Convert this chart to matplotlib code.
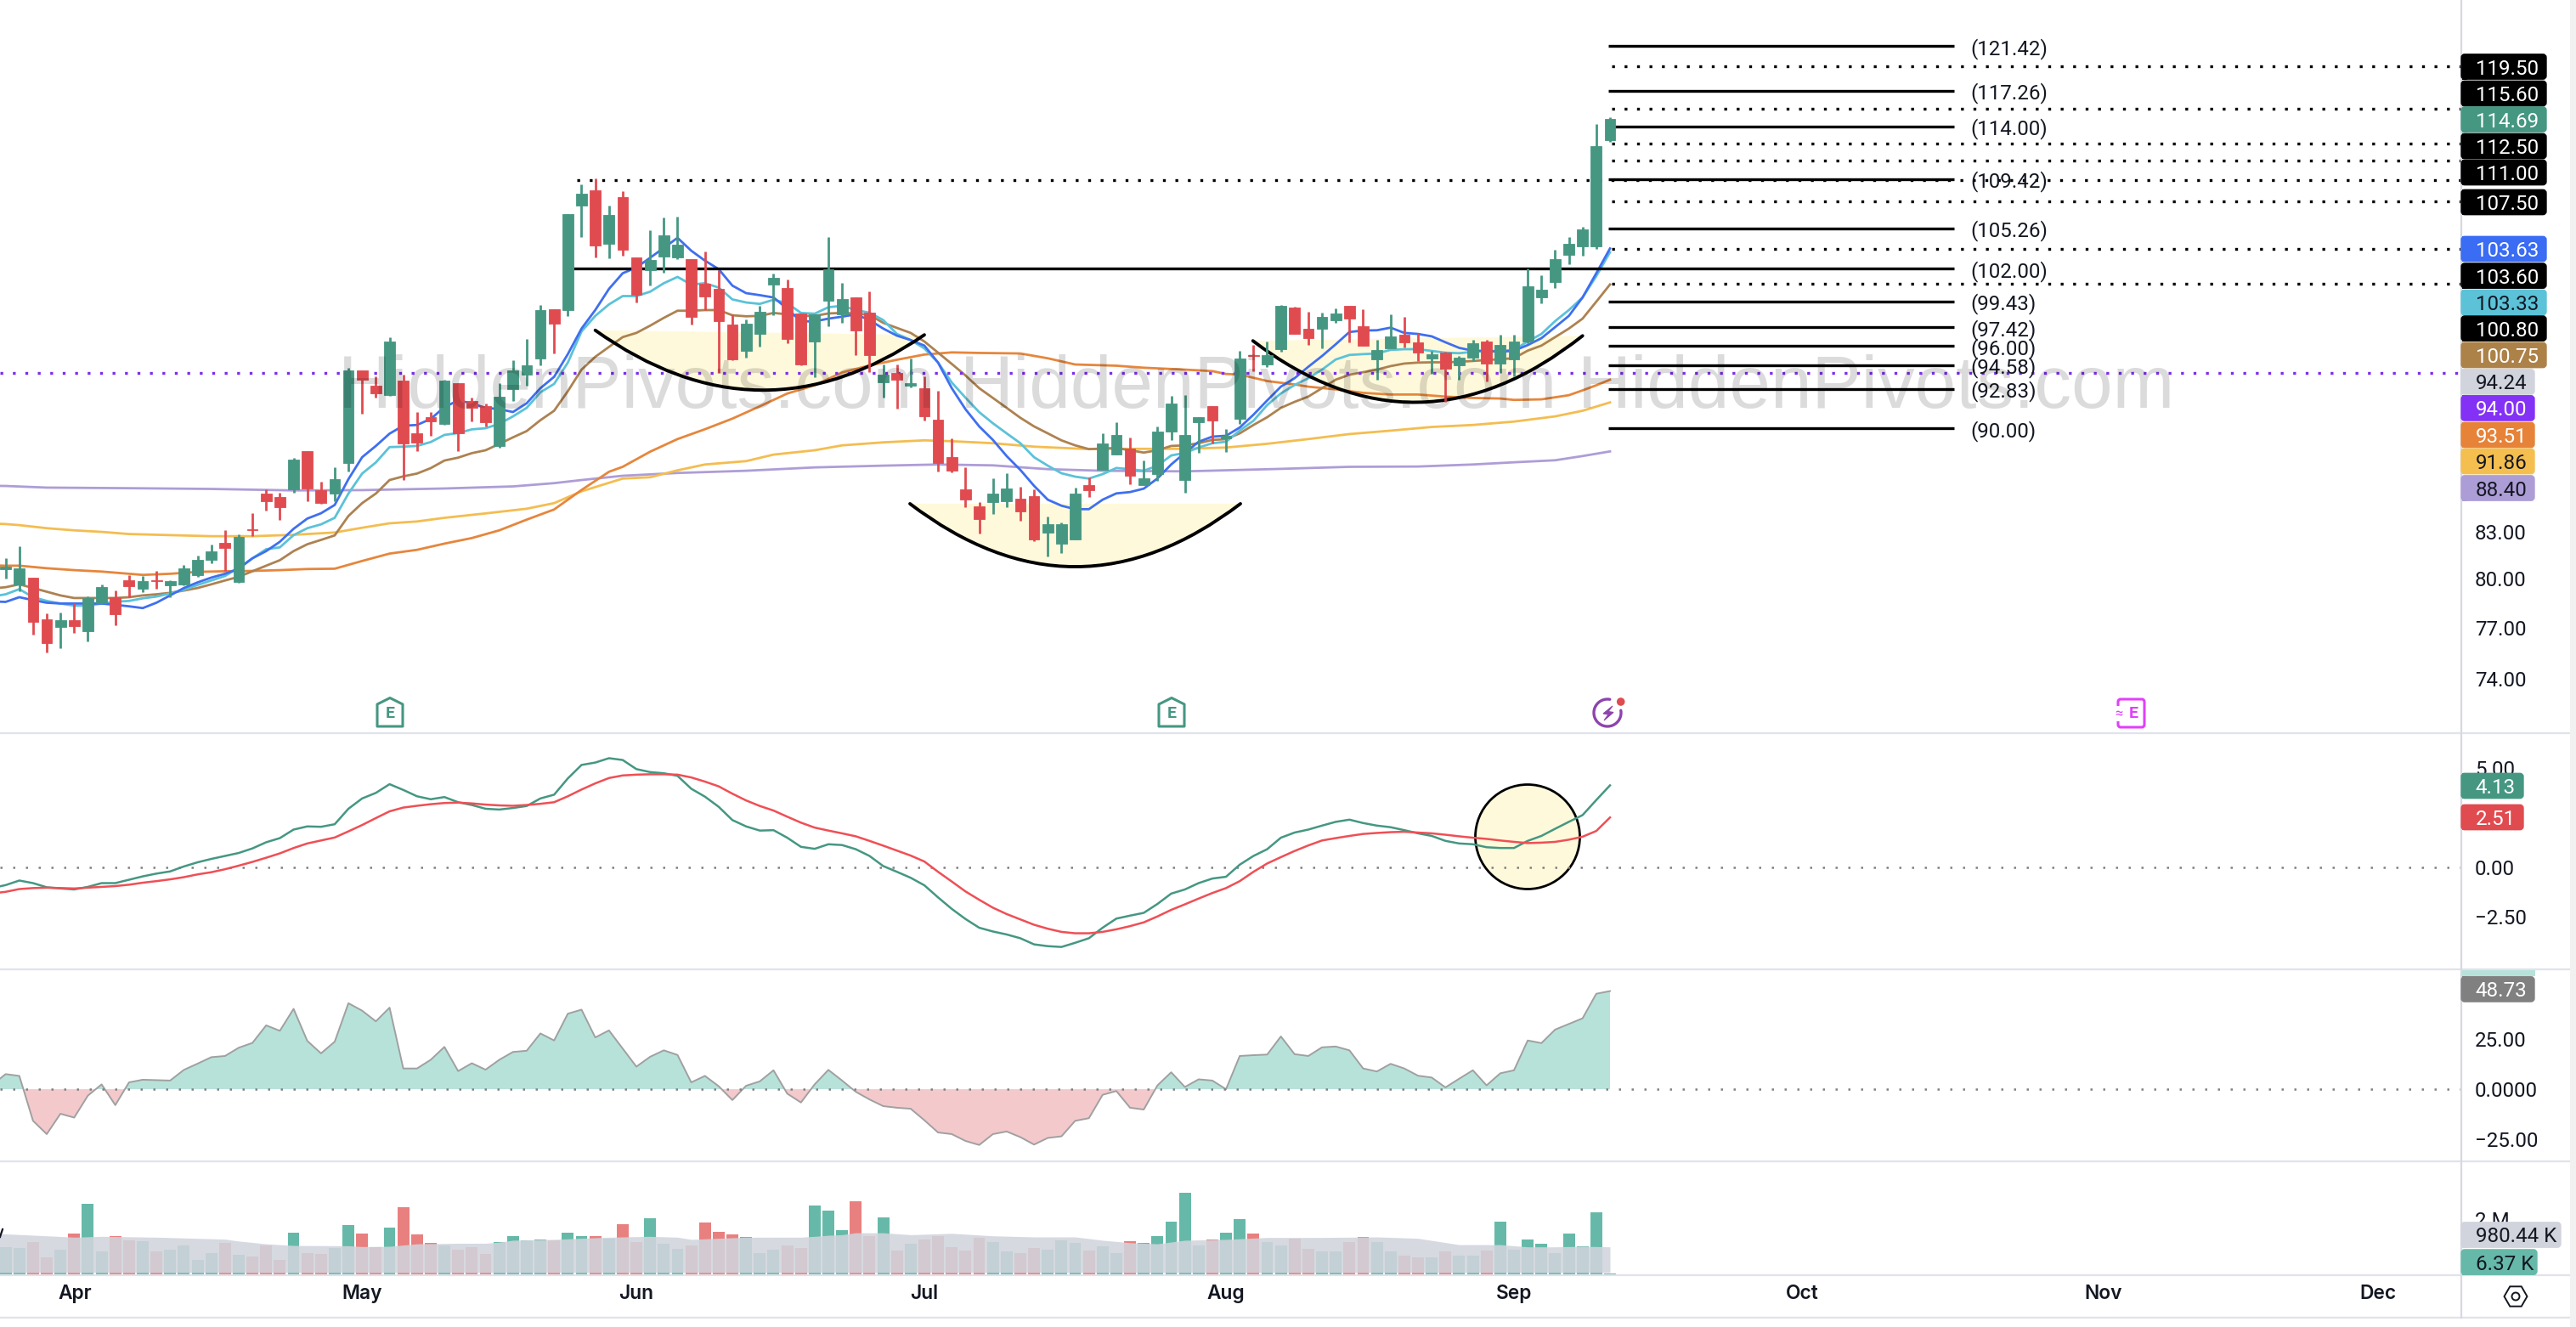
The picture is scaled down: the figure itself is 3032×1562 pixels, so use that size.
import matplotlib
matplotlib.use("Agg")
import matplotlib.pyplot as plt
import numpy as np
from matplotlib.lines import Line2D
from matplotlib.patches import Circle, FancyBboxPatch, PathPatch, Polygon, Rectangle, RegularPolygon
from matplotlib.path import Path
from matplotlib.transforms import Affine2D

# daily candles
opens = [
    80.6, 79.63, 80.08, 77.5, 77.03, 77.43, 76.8, 78.5, 78.88, 79.9,
    79.36, 79.9, 79.58, 79.66, 80.22, 81.2, 82.27, 79.8, 83.17, 85.5,
    85.3, 85.83, 88.43, 85.76, 85.5, 87.6, 94.2, 93.1, 92.38, 93.43,
    89.64, 90.8, 90.3, 93.26, 91.97, 91.6, 88.77, 92.83, 93.85, 95.07,
    98.8, 98.75, 107.2, 108.5, 104.0, 107.87, 102.88, 101.9, 103.0, 102.9,
    102.8, 100.8, 100.4, 97.63, 95.66, 96.94, 100.75, 100.47, 98.47, 96.35,
    99.47, 98.42, 99.73, 98.53, 93.32, 93.98, 93.1, 92.9, 90.6, 88.0,
    85.8, 84.7, 84.95, 85.04, 85.17, 85.33, 82.95, 82.24, 82.53, 86.08,
    87.15, 88.18, 88.58, 86.11, 86.86, 89.76, 86.42, 90.45, 91.6, 89.3,
    90.66, 95.34, 94.65, 95.77, 98.95, 97.3, 97.3, 97.96, 99.08, 97.49,
    95.03, 95.83, 96.83, 96.3, 95.07, 95.5, 94.54, 95.13, 96.32, 94.72,
    95.03, 96.32, 99.75, 100.93, 103.12, 103.82, 103.82, 112.8,
]
highs = [
    81.3, 82.05, 80.1, 77.85, 77.9, 78.47, 78.9, 79.66, 79.27, 80.25,
    80.2, 80.5, 79.9, 80.87, 81.45, 82.17, 83.1, 82.83, 84.22, 85.8,
    85.6, 87.97, 88.43, 86.34, 87.3, 94.35, 94.2, 93.78, 96.67, 93.87,
    91.2, 91.17, 93.5, 93.26, 92.18, 91.8, 93.23, 94.95, 96.57, 99.14,
    98.8, 106.44, 109.0, 109.5, 107.15, 108.4, 102.88, 105.1, 106.17, 106.25,
    102.8, 103.4, 101.9, 98.42, 98.0, 99.08, 101.6, 101.12, 98.47, 98.42,
    104.6, 100.9, 99.77, 100.2, 94.63, 94.63, 95.05, 93.75, 92.73, 89.3,
    87.3, 84.96, 86.54, 86.9, 85.96, 85.83, 83.98, 83.64, 85.9, 86.6,
    89.67, 90.45, 89.37, 87.75, 90.13, 92.34, 92.38, 90.82, 91.6, 89.95,
    95.62, 96.08, 96.37, 99.12, 99.0, 98.6, 98.53, 98.9, 99.08, 98.83,
    96.5, 98.42, 98.24, 96.98, 95.66, 95.56, 95.26, 96.5, 96.5, 96.85,
    96.85, 102.0, 101.5, 103.52, 104.55, 105.42, 114.25, 114.85,
]
lows = [
    80.0, 79.2, 76.6, 75.5, 75.78, 76.68, 76.2, 78.42, 77.12, 78.86,
    79.15, 79.38, 78.86, 79.6, 80.13, 81.0, 80.5, 79.75, 82.72, 84.4,
    83.8, 85.59, 85.0, 84.84, 85.0, 87.0, 91.07, 92.2, 92.3, 86.44,
    88.42, 89.48, 90.27, 88.42, 90.5, 90.15, 88.65, 91.95, 93.1, 94.56,
    95.45, 98.3, 104.55, 102.9, 102.85, 103.05, 99.36, 100.7, 101.67, 102.8,
    97.65, 98.75, 94.0, 94.94, 95.13, 95.97, 98.37, 96.23, 94.58, 93.72,
    97.49, 97.77, 95.3, 94.04, 92.2, 91.4, 92.93, 90.55, 87.03, 86.97,
    84.62, 82.9, 84.2, 84.62, 83.7, 82.38, 81.44, 81.63, 82.53, 85.3,
    87.15, 88.18, 86.15, 86.11, 86.4, 89.17, 85.58, 88.28, 88.93, 88.38,
    90.3, 94.12, 94.46, 95.58, 96.94, 96.08, 95.83, 97.77, 96.3, 96.0,
    93.5, 95.83, 95.87, 94.87, 93.93, 91.92, 93.5, 94.87, 93.36, 93.98,
    93.76, 96.19, 99.29, 100.49, 102.38, 103.05, 103.6, 112.65,
]
closes = [
    80.78, 80.67, 77.35, 76.05, 77.43, 77.07, 78.81, 79.48, 77.8, 79.55,
    79.87, 79.87, 79.85, 80.67, 81.2, 81.76, 81.94, 82.7, 83.12, 85.0,
    84.62, 87.84, 85.86, 84.9, 86.5, 94.2, 93.5, 92.53, 96.36, 88.97,
    89.02, 90.5, 93.43, 89.68, 91.5, 90.45, 92.26, 94.2, 94.56, 98.75,
    97.73, 106.44, 108.2, 103.9, 106.4, 103.5, 99.95, 102.7, 104.73, 103.96,
    98.24, 99.8, 97.9, 95.0, 97.7, 98.6, 101.28, 96.53, 94.65, 98.42,
    101.95, 99.6, 97.18, 95.34, 93.87, 93.51, 93.28, 90.86, 87.58, 87.09,
    85.15, 83.86, 85.5, 85.86, 84.36, 82.53, 83.48, 83.53, 85.54, 85.73,
    88.97, 89.52, 86.74, 86.54, 89.76, 91.8, 89.52, 90.8, 90.57, 89.5,
    95.05, 95.26, 95.32, 99.08, 96.94, 96.63, 98.2, 98.47, 98.09, 96.0,
    95.72, 96.76, 96.3, 95.53, 95.37, 94.34, 95.13, 96.19, 94.72, 96.06,
    96.35, 100.58, 100.35, 102.8, 104.03, 105.18, 112.3, 114.69,
]

# short moving averages, one value per candle; the first value sits one bar
# before the first candle so the line runs off the left edge
blue_ma = [
    78.6,
    78.57, 78.86, 78.68, 78.52, 78.47, 78.47, 78.47, 78.47, 78.39, 78.3,
    78.19, 78.52, 78.97, 79.43, 79.78, 80.08, 80.32, 80.64, 81.3, 81.76,
    82.36, 83.2, 83.87, 84.22, 84.77, 86.5, 88.0, 88.78, 89.64, 90.2,
    90.25, 90.68, 91.52, 92.0, 91.79, 91.47, 91.38, 91.17, 91.8, 92.89,
    93.72, 95.4, 97.33, 98.75, 100.4, 101.64, 102.1, 102.88, 103.68, 104.5,
    103.45, 102.65, 101.97, 100.66, 100.07, 99.91, 99.73, 98.86, 97.88, 97.88,
    98.09, 98.24, 98.42, 97.98, 97.33, 96.79, 96.46, 96.04, 94.77, 92.89,
    91.37, 90.15, 89.2, 88.08, 87.13, 86.05, 85.12, 84.72, 84.49, 84.49,
    85.12, 85.54, 85.63, 85.86, 86.55, 87.5, 88.3, 89.07, 89.43, 89.49,
    90.07, 90.98, 92.0, 93.0, 93.62, 94.46, 95.26, 96.14, 97.07, 97.18,
    97.2, 97.4, 97.0, 96.92, 96.74, 96.29, 95.87, 95.66, 95.64, 95.57,
    95.66, 96.08, 96.6, 97.44, 98.3, 99.73, 101.64, 103.63,
]
cyan_ma = [
    78.9,
    79.04, 79.36, 78.86, 78.63, 78.47, 78.34, 78.34, 78.47, 78.58, 78.63,
    78.79, 78.9, 79.09, 79.32, 79.62, 79.9, 80.18, 80.71, 81.3, 81.88,
    82.0, 82.79, 83.24, 83.49, 83.92, 85.53, 86.88, 87.64, 88.7, 88.73,
    88.78, 89.05, 89.55, 89.68, 89.94, 90.02, 90.33, 90.86, 91.47, 92.59,
    93.2, 94.77, 97.11, 98.3, 99.19, 99.84, 99.84, 100.18, 100.85, 101.35,
    100.74, 100.85, 100.51, 99.58, 99.34, 99.23, 99.55, 99.29, 98.53, 98.47,
    98.97, 99.08, 98.75, 98.55, 97.98, 96.92, 96.46, 95.83, 94.77, 93.3,
    92.2, 91.16, 90.37, 89.66, 88.97, 88.0, 87.42, 86.9, 86.67, 86.54,
    86.84, 87.26, 87.18, 87.07, 87.42, 88.12, 88.3, 88.67, 88.97, 89.07,
    89.86, 90.55, 91.67, 92.51, 93.12, 93.62, 94.25, 95.0, 95.34, 95.4,
    95.45, 95.72, 95.77, 95.77, 95.64, 95.51, 95.47, 95.57, 95.64, 95.64,
    95.72, 96.35, 96.92, 97.9, 98.75, 99.73, 101.41, 103.33,
]
brown_ma = [
    79.4,
    79.48, 79.66, 79.43, 79.2, 78.97, 78.81, 78.81, 78.81, 78.81, 78.86,
    78.97, 79.04, 79.13, 79.27, 79.43, 79.66, 79.9, 80.13, 80.48, 80.83,
    81.18, 81.76, 82.2, 82.48, 82.77, 84.04, 84.89, 85.53, 86.44, 86.69,
    86.88, 87.25, 87.77, 87.97, 88.28, 88.48, 88.92, 89.38, 89.82, 90.59,
    91.26, 92.67, 94.25, 95.2, 95.94, 96.68, 97.0, 97.55, 98.15, 98.7,
    98.7, 98.75, 98.75, 98.35, 98.27, 98.3, 98.53, 98.42, 98.3, 98.3,
    98.49, 98.53, 98.49, 98.37, 97.77, 97.38, 97.0, 96.35, 95.51, 94.67,
    93.82, 92.89, 92.18, 91.47, 90.76, 90.15, 89.66, 89.17, 88.82, 88.56,
    88.6, 88.64, 88.48, 88.32, 88.48, 88.78, 88.82, 88.97, 89.2, 89.25,
    89.66, 90.25, 90.8, 91.47, 91.9, 92.28, 92.89, 93.51, 93.87, 94.06,
    94.25, 94.51, 94.7, 94.77, 94.79, 94.79, 94.83, 94.89, 94.96, 95.02,
    95.1, 95.66, 96.04, 96.68, 97.33, 98.09, 99.4, 100.75,
]

# long moving averages are smooth, read at every few candles (candle number, price)
orange_bars = [
    0, 1, 2, 4, 6, 8, 10, 11, 13, 15, 17, 19, 21, 23, 25, 27, 29, 31, 33, 35, 37,
    39, 41, 43, 45, 46, 48, 50, 52, 54, 56, 58, 60, 62, 64, 66, 68, 70, 72, 75, 77,
    79, 82, 84, 87, 89, 90, 91, 93, 95, 96, 98, 100, 102, 104, 106, 108, 110, 111, 113, 115,
    116, 117, 118,
]
orange_ma = [
    80.85, 80.83, 80.83, 80.67, 80.55, 80.46, 80.32, 80.25, 80.32, 80.44, 80.48, 80.5, 80.55, 80.62, 80.64, 81.13, 81.6, 81.84, 82.24, 82.6, 83.1,
    83.8, 84.47, 85.77, 87.0, 87.34, 88.38, 89.26, 89.95, 90.7, 91.58, 92.5, 93.1, 94.04, 94.56, 94.98, 95.37, 95.53, 95.49, 95.45, 95.09,
    94.63, 94.54, 94.39, 94.25, 94.14, 93.93, 93.89, 93.41, 93.16, 93.0, 92.8, 92.55, 92.43, 92.43, 92.28, 92.18, 92.14, 92.04, 92.08, 92.38,
    92.73, 93.1, 93.51,
]
yellow_bars = [
    0, 1, 2, 4, 6, 8, 10, 13, 16, 19, 22, 25, 27, 29, 31, 33, 36, 39, 41, 43, 46,
    48, 50, 52, 55, 57, 60, 62, 65, 68, 70, 73, 76, 80, 83, 87, 90, 93, 96, 99, 102,
    105, 108, 111, 114, 116, 118,
]
yellow_ma = [
    83.55, 83.51, 83.44, 83.24, 83.1, 83.0, 82.86, 82.79, 82.72, 82.72, 82.81, 82.96, 83.27, 83.56, 83.68, 83.92, 84.21, 84.52, 84.89, 85.68, 86.54,
    86.63, 87.1, 87.5, 87.73, 88.18, 88.48, 88.82, 89.03, 89.17, 89.11, 88.97, 88.73, 88.56, 88.58, 88.58, 88.67, 88.93, 89.26, 89.61, 89.85,
    90.11, 90.25, 90.49, 90.86, 91.26, 91.86,
]
purple_bars = [0, 1, 4, 10, 16, 22, 27, 33, 38, 41, 43, 46, 50, 55, 60, 65, 69, 73, 77, 81, 87, 94, 99, 104, 108, 111, 114, 116, 118]
purple_ma = [
    86.05, 86.04, 85.93, 85.89, 85.84, 85.74, 85.76, 85.87, 86.01, 86.23, 86.44, 86.73, 86.92, 87.07, 87.3, 87.42, 87.5, 87.44, 87.18, 87.07, 87.03,
    87.2, 87.34, 87.36, 87.5, 87.65, 87.79, 88.08, 88.4,
]

# lower panels, first value is again one bar before the first candle
macd_line = [
    -1.05,
    -0.90, -0.67, -0.80, -1.01, -1.07, -1.12, -0.99, -0.80, -0.80, -0.63,
    -0.46, -0.32, -0.21, 0.04, 0.25, 0.42, 0.57, 0.72, 0.95, 1.26,
    1.47, 1.90, 2.06, 2.04, 2.17, 2.95, 3.47, 3.75, 4.19, 3.90,
    3.58, 3.43, 3.54, 3.28, 3.14, 2.95, 2.91, 2.99, 3.09, 3.47,
    3.66, 4.48, 5.16, 5.28, 5.50, 5.41, 4.95, 4.80, 4.74, 4.61,
    3.96, 3.56, 3.05, 2.38, 2.06, 1.85, 1.87, 1.49, 1.03, 0.93,
    1.16, 1.12, 0.91, 0.57, 0.06, -0.23, -0.53, -0.91, -1.52, -2.10,
    -2.61, -3.05, -3.24, -3.39, -3.58, -3.89, -3.98, -4.02, -3.81, -3.58,
    -3.05, -2.59, -2.44, -2.30, -1.85, -1.33, -1.12, -0.80, -0.57, -0.48,
    0.13, 0.57, 0.91, 1.49, 1.75, 1.90, 2.10, 2.29, 2.40, 2.23,
    2.10, 2.02, 1.87, 1.71, 1.58, 1.33, 1.20, 1.16, 1.01, 0.97,
    0.97, 1.33, 1.58, 1.94, 2.29, 2.63, 3.39, 4.13,
]
macd_signal = [
    -1.32,
    -1.24, -1.10, -1.05, -1.03, -1.05, -1.07, -1.03, -0.99, -0.95, -0.88,
    -0.78, -0.70, -0.61, -0.50, -0.36, -0.25, -0.10, 0.08, 0.27, 0.48,
    0.70, 0.97, 1.20, 1.35, 1.50, 1.81, 2.13, 2.48, 2.82, 3.01,
    3.10, 3.18, 3.24, 3.26, 3.22, 3.16, 3.12, 3.10, 3.14, 3.20,
    3.28, 3.58, 3.92, 4.23, 4.50, 4.63, 4.67, 4.69, 4.69, 4.67,
    4.53, 4.32, 4.08, 3.71, 3.37, 3.09, 2.86, 2.55, 2.25, 2.00,
    1.85, 1.71, 1.56, 1.33, 1.09, 0.84, 0.59, 0.29, -0.23, -0.72,
    -1.22, -1.64, -2.04, -2.36, -2.63, -2.90, -3.10, -3.26, -3.33, -3.33,
    -3.26, -3.13, -2.97, -2.78, -2.48, -2.15, -1.87, -1.58, -1.30, -1.05,
    -0.70, -0.23, 0.19, 0.51, 0.82, 1.10, 1.35, 1.47, 1.58, 1.68,
    1.73, 1.77, 1.79, 1.75, 1.71, 1.64, 1.56, 1.49, 1.43, 1.35,
    1.28, 1.22, 1.24, 1.28, 1.39, 1.54, 1.83, 2.51,
]
momentum = [
    2.0,
    7.5, 6.6, -15.7, -22.3, -12.2, -14.1, -3.2, 2.4, -7.9, 3.4,
    4.7, 4.5, 4.3, 9.6, 12.7, 15.9, 16.5, 20.6, 23.0, 31.7,
    29.0, 39.9, 24.0, 17.8, 23.6, 42.7, 39.0, 33.7, 40.5, 10.3,
    10.3, 14.6, 21.0, 9.0, 12.9, 9.7, 14.6, 18.5, 19.1, 27.7,
    24.2, 37.5, 39.5, 25.7, 29.2, 20.2, 11.2, 16.1, 19.3, 17.0,
    3.4, 6.6, 1.5, -5.4, 1.7, 3.9, 9.4, -2.2, -6.6, 2.4,
    9.6, 4.3, -1.3, -5.1, -8.4, -9.2, -9.7, -15.4, -21.5, -22.3,
    -25.7, -27.7, -22.3, -21.0, -23.8, -27.5, -24.2, -23.4, -15.7, -14.4,
    -2.8, -0.9, -9.2, -10.1, 1.9, 8.4, 1.1, 4.9, 4.3, 0.0,
    16.5, 16.9, 17.2, 26.2, 17.4, 16.5, 20.8, 21.2, 19.3, 10.3,
    8.8, 12.6, 10.3, 6.7, 5.8, 0.9, 5.2, 9.4, 1.9, 7.9,
    9.4, 24.2, 22.9, 29.6, 32.4, 35.2, 47.4, 48.73,
]
# volume in millions
volume = [
    0.98, 0.95, 1.15, 0.61, 0.88, 1.47, 2.54, 0.81, 1.36, 1.22,
    1.19, 0.81, 0.88, 1.02, 0.50, 0.75, 1.11, 0.68, 0.64, 1.02,
    0.50, 1.49, 0.75, 0.72, 0.95, 1.76, 1.47, 0.98, 1.67, 2.42,
    1.44, 1.11, 1.02, 0.88, 0.98, 0.73, 1.15, 1.36, 1.22, 1.26,
    1.22, 1.49, 1.38, 1.36, 1.29, 1.80, 1.15, 2.01, 1.09, 0.91,
    1.02, 1.86, 1.52, 1.44, 1.33, 0.75, 0.87, 1.02, 0.95, 2.48,
    2.31, 1.60, 2.62, 1.36, 2.04, 0.84, 1.09, 1.26, 1.36, 0.98,
    0.84, 1.32, 1.14, 0.81, 0.77, 0.95, 0.88, 1.22, 1.11, 0.84,
    1.00, 0.77, 1.19, 1.13, 1.38, 1.90, 2.93, 1.02, 1.25, 1.49,
    1.99, 1.47, 1.15, 1.02, 1.29, 0.91, 0.83, 0.81, 1.14, 1.33,
    1.15, 0.81, 0.65, 0.60, 0.61, 0.81, 0.65, 0.65, 0.85, 1.90,
    0.88, 1.26, 1.09, 0.75, 1.45, 0.99, 2.24, 0.00637,
]
vol_ma_bars = [
    0, 1, 4, 6, 8, 12, 17, 18, 20, 22, 26, 27, 29, 31, 34, 36, 37, 38, 41, 43, 45,
    48, 50, 51, 53, 55, 59, 60, 61, 62, 63, 65, 67, 70, 73, 76, 79, 81, 83, 85, 87,
    90, 93, 97, 101, 104, 107, 110, 112, 114, 116, 118,
]
vol_ma = [
    1.45, 1.45, 1.38, 1.33, 1.36, 1.33, 1.26, 1.19, 1.09, 1.03, 1.02, 0.99, 1.00, 1.09, 1.11, 1.11, 1.15, 1.22, 1.25, 1.29, 1.33,
    1.36, 1.33, 1.25, 1.29, 1.33, 1.33, 1.36, 1.40, 1.42, 1.49, 1.49, 1.42, 1.47, 1.38, 1.34, 1.34, 1.22, 1.13, 1.09, 1.22,
    1.25, 1.32, 1.32, 1.34, 1.29, 1.06, 1.06, 0.98, 0.98, 1.00, 0.98,
]

# price levels drawn by hand on the chart
fib_levels = [121.42, 117.26, 114.00, 109.42, 105.26, 102.00, 99.43, 97.42, 96.00, 94.58, 92.83, 90.00]
dotted_levels = [119.50, 115.60, 112.50, 111.00, 107.50, 103.60, 100.80]
may_high = 109.3
purple_level = 94.0

month_labels = ["Apr", "May", "Jun", "Jul", "Aug", "Sep", "Oct", "Nov", "Dec"]
month_bars = [5.04, 25.98, 46, 67, 89, 110, 131, 153, 173]
price_ticks = [74, 77, 80, 83]

# tags on the price scale: text, centre row in pixels, fill, text colour, right edge
price_tags = [
    ("119.50", 78.5, "#000000", "#ffffff", 2998),
    ("115.60", 110, "#000000", "#ffffff", 2998),
    ("114.69", 140.5, "#459782", "#ffffff", 2998),
    ("112.50", 172, "#000000", "#ffffff", 2998),
    ("111.00", 203, "#000000", "#ffffff", 2998),
    ("107.50", 238, "#000000", "#ffffff", 2998),
    ("103.63", 293, "#3a6cf4", "#ffffff", 2998),
    ("103.60", 324.6, "#000000", "#ffffff", 2998),
    ("103.33", 356, "#5bc2d8", "#131722", 2998),
    ("100.80", 386.6, "#000000", "#ffffff", 2998),
    ("100.75", 418, "#ad8249", "#ffffff", 2998),
    ("94.24", 449.4, "#d1d4dc", "#131722", 2984),
    ("94.00", 480.4, "#8331f5", "#ffffff", 2984),
    ("93.51", 512, "#e68339", "#ffffff", 2984),
    ("91.86", 543, "#f5bf50", "#131722", 2984),
    ("88.40", 574.5, "#ad9dd6", "#131722", 2984),
    ("4.13", 925, "#459782", "#ffffff", 2971),
    ("2.51", 962, "#e04b50", "#ffffff", 2971),
    ("48.73", 1164.4, "#808080", "#ffffff", 2984),
    ("980.44 K", 1453.5, "#d1d4dc", "#131722", 3015),
    ("6.37 K", 1485.6, "#66b9a8", "#131722", 2987),
]

W, H = 3032, 1562
DPI = 200
GREEN = "#459782"
RED = "#e04b50"
NUM_SIZE = 8.7
BAR_PX = 16.14
FIRST_PX = 6.6
AXIS_PX = 2897

plt.rcParams["font.family"] = ["Roboto", "DejaVu Sans"]
plt.rcParams["axes.unicode_minus"] = True

fig = plt.figure(figsize=(W / DPI, H / DPI), dpi=DPI, facecolor="white")
# pixel coordinates, y going down, for the things that sit outside the data
px = Affine2D().scale(1, -1).translate(0, H)


def panel(top, bottom):
    ax = fig.add_axes([0, 1 - bottom / H, AXIS_PX / W, (bottom - top) / H])
    ax.set_xlim(-FIRST_PX / BAR_PX, (AXIS_PX - FIRST_PX) / BAR_PX)
    for s in ax.spines.values():
        s.set_visible(False)
    ax.set_xticks([])
    ax.yaxis.tick_right()
    ax.tick_params(axis="y", length=0, pad=5.8, labelsize=NUM_SIZE, labelcolor="#131722")
    ax.patch.set_alpha(0)
    return ax


bars = np.arange(len(closes))
# the per candle lines and lower panel series start one bar earlier
line_bars = np.arange(-1, len(closes))
opens = np.array(opens)
closes = np.array(closes)
is_up = closes >= opens

# ---- price panel
ax = panel(0, 862)
ax.set_yscale("log")
ax.set_ylim(70.94, 125.9)
ax.set_yticks(price_ticks, labels=[f"{t:.2f}" for t in price_ticks])
ax.minorticks_off()


def cup(left, right, edge, control, edge2):
    verts = [(left, edge), (0.5 * (left + right), control), (right, edge2)]
    fill = PathPatch(Path(verts + [verts[0], verts[0]], [Path.MOVETO, Path.CURVE3, Path.CURVE3, Path.LINETO, Path.CLOSEPOLY]),
                     facecolor="#fff9db", edgecolor="none", zorder=1)
    ax.add_patch(fill)
    arc = PathPatch(Path(verts, [Path.MOVETO, Path.CURVE3, Path.CURVE3]), facecolor="none",
                    edgecolor="black", lw=1.4, capstyle="round", zorder=2.5)
    ax.add_patch(arc)


cup(43.0, 67.0, 97.2, 88.66, 96.85)
cup(65.95, 90.05, 84.85, 76.88, 84.85)
cup(90.96, 115.0, 96.4, 87.38, 96.78)

for name_ma, idx, color in [
    (purple_ma, purple_bars, "#ae9dd7"),
    (yellow_ma, yellow_bars, "#f4bd50"),
    (orange_ma, orange_bars, "#e6863c"),
    (brown_ma, None, "#ad8251"),
    (cyan_ma, None, "#5bc2d8"),
    (blue_ma, None, "#3f6ff0"),
]:
    xs = line_bars if idx is None else np.array(idx) - 1
    ax.plot(xs, name_ma, color=color, lw=1.0, zorder=2)

x_end = (AXIS_PX - FIRST_PX) / BAR_PX
x_fib_start = (1893 - FIRST_PX) / BAR_PX
x_fib_end = (2300 - FIRST_PX) / BAR_PX
x_dot_start = (1897 - FIRST_PX) / BAR_PX
x_label = (2319 - FIRST_PX) / BAR_PX
for level in fib_levels:
    start = (675 - FIRST_PX) / BAR_PX if level == 102.00 else x_fib_start
    ax.plot([start, x_fib_end], [level, level], color="black", lw=1.2, solid_capstyle="butt", zorder=2)
    ax.text(x_label, level, f"({level:.2f})", fontsize=NUM_SIZE, color="#131722", va="center_baseline", ha="left")
dots = (0, (1, 3.4))
for level in dotted_levels:
    ax.plot([x_dot_start, x_end], [level, level], color="black", lw=1.2, ls=dots, dash_capstyle="butt", zorder=2)
ax.plot([(679 - FIRST_PX) / BAR_PX, x_end], [may_high, may_high], color="black", lw=1.2, ls=dots, dash_capstyle="butt", zorder=2)
ax.plot([ax.get_xlim()[0], x_end], [purple_level, purple_level], color="#7c2df0", lw=1.2, ls=dots, dash_capstyle="butt", zorder=2)

candle_colors = [GREEN if u else RED for u in is_up]
ax.vlines(bars, lows, highs, colors=candle_colors, lw=1.0, zorder=3)
body_low = np.minimum(opens, closes)
body_high = np.maximum(opens, closes)
ax.bar(bars, body_high - body_low, bottom=body_low, width=0.79, color=candle_colors,
       edgecolor=candle_colors, lw=0.3, zorder=3)

# ---- macd panel
ax2 = panel(864, 1140)
ax2.set_ylim(-5.106, 6.72)
ax2.set_yticks([5, 0, -2.5], labels=["5.00", "0.00", "\u22122.50"])
ax2.axhline(0, color="#808080", lw=0.9, ls=(0, (1, 5)), dash_capstyle="butt")
ax2.add_patch(Circle((1798, 985), 61.5, transform=px, facecolor="#fff9db", edgecolor="black", lw=1.0, zorder=1))
ax2.plot(line_bars, macd_line, color=GREEN, lw=0.9, zorder=3)
ax2.plot(line_bars, macd_signal, color="#ef4f55", lw=0.9, zorder=3)

# ---- momentum panel
ax3 = panel(1142, 1366)
ax3.set_ylim(-35.4, 59.1)
ax3.set_yticks([25, 0, -25], labels=["25.00", "0.0000", "\u221225.00"])
momentum = np.array(momentum)
ax3.fill_between(line_bars, momentum, 0, where=momentum >= 0, interpolate=True, color="#b7e2da", lw=0)
ax3.fill_between(line_bars, momentum, 0, where=momentum <= 0, interpolate=True, color="#f3c9cc", lw=0)
ax3.plot(line_bars, momentum, color="#a0a0a0", lw=0.7)
ax3.axhline(0, color="#808080", lw=0.9, ls=(0, (1, 5)), dash_capstyle="butt")

# ---- volume panel
ax4 = panel(1368, 1500)
ax4.set_ylim(-0.015, 4.05)
ax4.set_yticks([2], labels=["2 M"])
vol_colors = ["#66b9a8" if u else "#e8807f" for u in is_up]
ax4.bar(bars, volume, width=0.86, color=vol_colors, lw=0)
ax4.fill_between(np.array(vol_ma_bars) - 1, np.array(vol_ma), 0.05, color="#d1d4dc", alpha=0.88, lw=0, zorder=3)
ax4.set_xticks(month_bars, labels=month_labels, family=["Inter", "DejaVu Sans"])
ax4.tick_params(axis="x", length=0, pad=4.2, labelsize=8.2, labelcolor="#131722")
for t in ax4.get_xticklabels():
    t.set_fontweight("semibold")

# ---- frame rules
for y in [862.5, 1141, 1367, 1501, 1551]:
    fig.add_artist(Line2D([0, 3025], [y, y], transform=px, color="#e0e3eb", lw=0.8, zorder=2))
fig.add_artist(Line2D([AXIS_PX, AXIS_PX], [0, 1551], transform=px, color="#d6d9e1", lw=0.8, zorder=2))
fig.add_artist(Rectangle((3025, 0), 7, H, transform=px, facecolor="#f1f1f1", edgecolor="none", zorder=2))
# clipped stroke of the volume legend at the left edge
fig.add_artist(Line2D([0, 3], [1456, 1447], transform=px, color="#131722", lw=0.8, zorder=2))

# ---- watermark
for x_mark in [398, 1130, 1857]:
    fig.text(x_mark, 480, "HiddenPivots.com", transform=px, fontsize=31.4, color="black", alpha=0.14,
             va="baseline", ha="left", zorder=3, family=["Liberation Sans", "DejaVu Sans"])

# ---- price scale tags
fig.add_artist(Rectangle((AXIS_PX + 1, 1141.5), 2984 - AXIS_PX - 1, 7, transform=px, facecolor="#b7e2da", edgecolor="none", zorder=4))
for label, y, fill, ink, right in price_tags:
    fig.add_artist(FancyBboxPatch((AXIS_PX + 1, y - 15.7 + 2), right - AXIS_PX - 3, 31.4 - 4,
                                  boxstyle="round,pad=0,rounding_size=3", mutation_aspect=1, transform=px,
                                  facecolor=fill, edgecolor=fill, lw=1.2, zorder=4))
    fig.add_artist(Rectangle((AXIS_PX + 1, y - 15), 6, 30, transform=px, facecolor=fill, edgecolor="none", zorder=4))
    fig.text(2913.5, y, label, transform=px, fontsize=NUM_SIZE, color=ink, va="center_baseline", ha="left", zorder=5)

# ---- event icons
for x_icon in [459, 1379]:
    fig.add_artist(Polygon([(x_icon - 15, 829), (x_icon, 821.5), (x_icon + 15, 829), (x_icon + 15, 855), (x_icon - 15, 855)],
                           closed=True, transform=px, facecolor="white", edgecolor=GREEN, lw=1.1, joinstyle="round", zorder=4))
    fig.text(x_icon, 840, "E", transform=px, fontsize=7, fontweight="bold", color=GREEN, ha="center", va="center", zorder=5)
fig.add_artist(FancyBboxPatch((2493, 823), 31, 33, boxstyle="round,pad=0,rounding_size=3", transform=px,
                              facecolor="white", edgecolor="#e040fb", lw=1.1, zorder=4))
fig.text(2511, 840, "E", transform=px, fontsize=7, fontweight="bold", color="#e040fb", ha="center", va="center", zorder=5)
fig.text(2494, 840, "\u2248", transform=px, fontsize=6, color="#e040fb", ha="center", va="center", zorder=5,
         bbox=dict(facecolor="white", edgecolor="none", pad=0.4))
# open ring with a bolt and a red dot
ring_angle = np.radians(np.arange(-10, 281, 5))
fig.add_artist(Line2D(1892 + 16 * np.cos(ring_angle), 839 + 16 * np.sin(ring_angle), transform=px,
                      color="#8e44ad", lw=1.2, solid_capstyle="round", zorder=4))
fig.add_artist(Polygon([(1898, 831), (1887, 840), (1893, 841), (1888, 848), (1899, 838.5), (1893, 837.5)],
                       closed=True, transform=px, facecolor="#8e44ad", edgecolor="#8e44ad", lw=0.4, zorder=5))
fig.add_artist(Circle((1907.7, 826), 4.8, transform=px, facecolor="#e04b50", edgecolor="none", zorder=6))
# settings button
fig.add_artist(RegularPolygon((2961, 1526), 6, radius=13.5, orientation=np.pi / 2, transform=px, facecolor="white",
                              edgecolor="#131722", lw=0.7, zorder=4))
fig.add_artist(Circle((2961, 1526), 4.5, transform=px, facecolor="white", edgecolor="#131722", lw=0.7, zorder=5))

fig.savefig("out.png", dpi=DPI, facecolor="white")
